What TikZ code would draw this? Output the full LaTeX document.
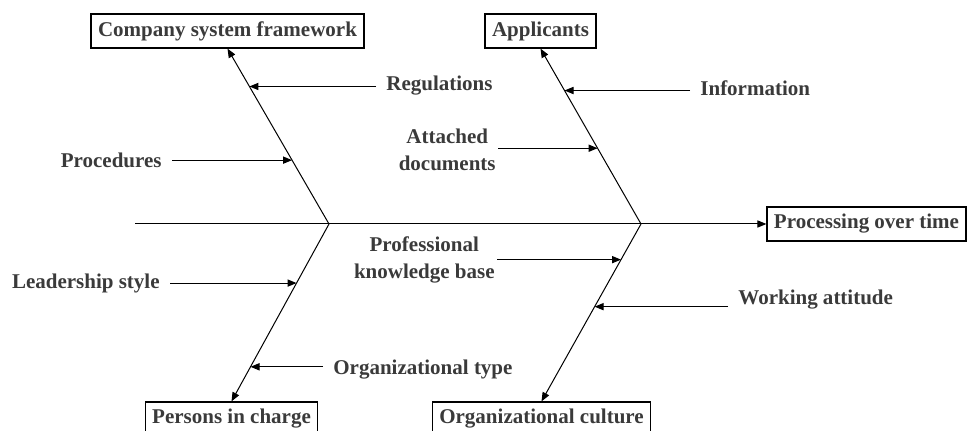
\documentclass[tikz,border=0pt]{standalone}
\usepackage{fontspec}
\setmainfont{Liberation Serif}
\usetikzlibrary{arrows.meta,calc,positioning}
\definecolor{T}{RGB}{58,58,58}
\newcommand{\fishfont}{\fontsize{10.5}{13.5}\selectfont\bfseries}
\tikzset{
  bone/.style={draw=black, line width=0.5pt, -{Triangle[length=4.5pt,width=3.6pt]}},
  box/.style={draw=black, line width=0.6pt, minimum height=17pt, inner xsep=3.5pt, inner ysep=0pt, font=\fishfont, text=T},
  cause/.style={inner xsep=5pt, inner ysep=1pt, font=\fishfont, text=T}
}

\begin{document}
\begin{tikzpicture}[x=0.5pt,y=-0.5pt]
\useasboundingbox (0,0) rectangle (968,431);
% effect and the four categories
\node[box] (pot) at (866.5,224) {Processing over time};
\node[box] (csf) at (227.5,31) {Company system framework};
\node[box] (app) at (540.5,31) {Applicants};
\node[box] (pic) at (231.5,419) {Persons in charge};
\node[box] (oc) at (541.5,419) {Organizational culture};
\coordinate (tail) at (135,224);
\coordinate (j1) at (329,224);
\coordinate (j2) at (641,224);
\draw[bone] (tail) -- (pot.west);
\draw[bone] (j1) -- (csf.south);
\draw[bone] (j2) -- (app.south);
\draw[bone] (j1) -- (pic.north);
\draw[bone] (j2) -- (oc.north);
% points on the bones
\coordinate (regt) at ($(j1)!0.784!(csf.south)$);
\coordinate (prot) at ($(j1)!0.364!(csf.south)$);
\coordinate (inft) at ($(j2)!0.761!(app.south)$);
\coordinate (attt) at ($(j2)!0.432!(app.south)$);
\coordinate (ldrt) at ($(j1)!0.333!(pic.north)$);
\coordinate (orgt) at ($(j1)!0.805!(pic.north)$);
\coordinate (prft) at ($(j2)!0.201!(oc.north)$);
\coordinate (wrkt) at ($(j2)!0.466!(oc.north)$);
% causes
\node[cause, anchor=west] (reg) at (376,86) {Regulations};
\node[cause, anchor=east] (pro) at (172,160) {Procedures};
\node[cause, anchor=west] (inf) at (690,88) {Information};
\node[cause, anchor=east, align=center, inner xsep=1pt] (att) at (498,150) {Attached\\documents};
\node[cause, anchor=east] (ldr) at (170,283) {Leadership style};
\node[cause, anchor=west] (org) at (323,370) {Organizational type};
\node[cause, anchor=east, align=center, inner xsep=1pt] (prf) at (497,260) {Professional\\knowledge base};
\node[cause, anchor=west] (wrk) at (728,300) {Working attitude};
\draw[bone] (reg.west |- regt) -- (regt);
\draw[bone] (pro.east |- prot) -- (prot);
\draw[bone] (inf.west |- inft) -- (inft);
\draw[bone] (att.east |- attt) -- (attt);
\draw[bone] (ldr.east |- ldrt) -- (ldrt);
\draw[bone] (org.west |- orgt) -- (orgt);
\draw[bone] (prf.east |- prft) -- (prft);
\draw[bone] (wrk.west |- wrkt) -- (wrkt);
\end{tikzpicture}
\end{document}
